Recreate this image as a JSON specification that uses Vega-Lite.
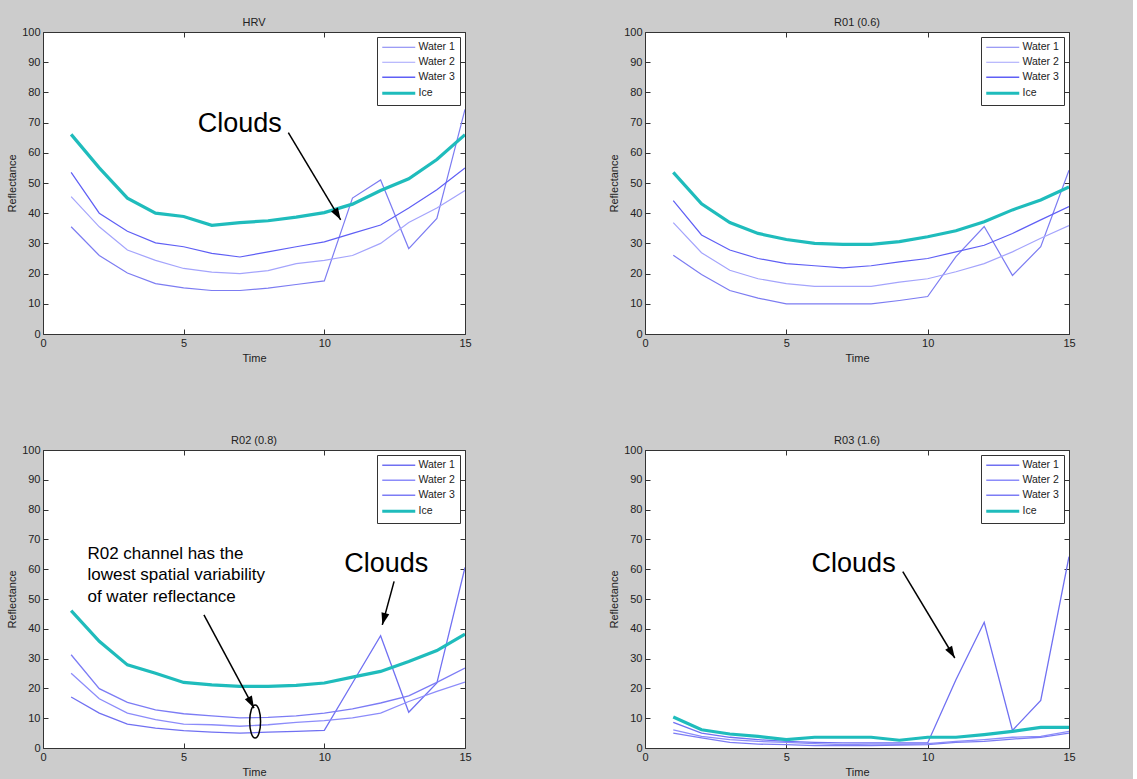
{
  "$schema": "https://vega.github.io/schema/vega-lite/v6.json",
  "background": "#cccccc",
  "padding": {"left": 6, "top": 16, "right": 57, "bottom": 1},
  "config": {
    "font": "Liberation Sans",
    "view": {"fill": "white", "stroke": "#333333", "strokeWidth": 1},
    "title": {"fontSize": 11, "fontWeight": "normal", "color": "#222222", "offset": -2},
    "axis": {"grid": false, "labelFontSize": 11, "labelColor": "#222222", "titleFontSize": 11, "titleFontWeight": "normal", "titleColor": "#222222", "domain": false, "tickColor": "#333333", "tickSize": -5, "labelPadding": 8, "labelFlush": false},
    "legend": {"orient": "top-right", "offset": 5, "strokeColor": "#333333", "fillColor": "white", "padding": 5, "labelFontSize": 10.5, "labelColor": "#222222", "symbolType": "M-1,0L5.6,0", "symbolSize": 100, "labelOffset": 26, "rowPadding": 4, "title": null}
  },
  "datasets": {
    "hrv": [
      {"time":1,"series":"Water 1","reflectance":35.5},{"time":2,"series":"Water 1","reflectance":26},{"time":3,"series":"Water 1","reflectance":20.2},{"time":4,"series":"Water 1","reflectance":16.7},{"time":5,"series":"Water 1","reflectance":15.3},{"time":6,"series":"Water 1","reflectance":14.4},{"time":7,"series":"Water 1","reflectance":14.4},{"time":8,"series":"Water 1","reflectance":15.2},{"time":9,"series":"Water 1","reflectance":16.4},{"time":10,"series":"Water 1","reflectance":17.6},{"time":11,"series":"Water 1","reflectance":45},{"time":12,"series":"Water 1","reflectance":51},{"time":13,"series":"Water 1","reflectance":28.3},{"time":14,"series":"Water 1","reflectance":38.3},{"time":15,"series":"Water 1","reflectance":74.4},
      {"time":1,"series":"Water 2","reflectance":45.5},{"time":2,"series":"Water 2","reflectance":35.5},{"time":3,"series":"Water 2","reflectance":27.8},{"time":4,"series":"Water 2","reflectance":24.4},{"time":5,"series":"Water 2","reflectance":21.7},{"time":6,"series":"Water 2","reflectance":20.5},{"time":7,"series":"Water 2","reflectance":20},{"time":8,"series":"Water 2","reflectance":21},{"time":9,"series":"Water 2","reflectance":23.3},{"time":10,"series":"Water 2","reflectance":24.4},{"time":11,"series":"Water 2","reflectance":26},{"time":12,"series":"Water 2","reflectance":30},{"time":13,"series":"Water 2","reflectance":36.9},{"time":14,"series":"Water 2","reflectance":41.7},{"time":15,"series":"Water 2","reflectance":47.5},
      {"time":1,"series":"Water 3","reflectance":53.5},{"time":2,"series":"Water 3","reflectance":40},{"time":3,"series":"Water 3","reflectance":34},{"time":4,"series":"Water 3","reflectance":30.2},{"time":5,"series":"Water 3","reflectance":28.9},{"time":6,"series":"Water 3","reflectance":26.7},{"time":7,"series":"Water 3","reflectance":25.5},{"time":8,"series":"Water 3","reflectance":27.2},{"time":9,"series":"Water 3","reflectance":28.9},{"time":10,"series":"Water 3","reflectance":30.5},{"time":11,"series":"Water 3","reflectance":33.3},{"time":12,"series":"Water 3","reflectance":36.1},{"time":13,"series":"Water 3","reflectance":41.7},{"time":14,"series":"Water 3","reflectance":47.8},{"time":15,"series":"Water 3","reflectance":55},
      {"time":1,"series":"Ice","reflectance":66.1},{"time":2,"series":"Ice","reflectance":55},{"time":3,"series":"Ice","reflectance":45},{"time":4,"series":"Ice","reflectance":40},{"time":5,"series":"Ice","reflectance":38.9},{"time":6,"series":"Ice","reflectance":36},{"time":7,"series":"Ice","reflectance":36.9},{"time":8,"series":"Ice","reflectance":37.5},{"time":9,"series":"Ice","reflectance":38.7},{"time":10,"series":"Ice","reflectance":40.2},{"time":11,"series":"Ice","reflectance":43},{"time":12,"series":"Ice","reflectance":47.5},{"time":13,"series":"Ice","reflectance":51.4},{"time":14,"series":"Ice","reflectance":57.8},{"time":15,"series":"Ice","reflectance":66}
    ],
    "r01": [
      {"time":1,"series":"Water 1","reflectance":26.1},{"time":2,"series":"Water 1","reflectance":19.7},{"time":3,"series":"Water 1","reflectance":14.4},{"time":4,"series":"Water 1","reflectance":11.9},{"time":5,"series":"Water 1","reflectance":10},{"time":6,"series":"Water 1","reflectance":10},{"time":7,"series":"Water 1","reflectance":10},{"time":8,"series":"Water 1","reflectance":10},{"time":9,"series":"Water 1","reflectance":11.1},{"time":10,"series":"Water 1","reflectance":12.4},{"time":11,"series":"Water 1","reflectance":25.6},{"time":12,"series":"Water 1","reflectance":35.6},{"time":13,"series":"Water 1","reflectance":19.4},{"time":14,"series":"Water 1","reflectance":28.9},{"time":15,"series":"Water 1","reflectance":54.2},
      {"time":1,"series":"Water 2","reflectance":36.9},{"time":2,"series":"Water 2","reflectance":26.9},{"time":3,"series":"Water 2","reflectance":21.1},{"time":4,"series":"Water 2","reflectance":18.3},{"time":5,"series":"Water 2","reflectance":16.7},{"time":6,"series":"Water 2","reflectance":15.8},{"time":7,"series":"Water 2","reflectance":15.8},{"time":8,"series":"Water 2","reflectance":15.8},{"time":9,"series":"Water 2","reflectance":17.2},{"time":10,"series":"Water 2","reflectance":18.3},{"time":11,"series":"Water 2","reflectance":20.6},{"time":12,"series":"Water 2","reflectance":23.3},{"time":13,"series":"Water 2","reflectance":27.2},{"time":14,"series":"Water 2","reflectance":31.7},{"time":15,"series":"Water 2","reflectance":35.9},
      {"time":1,"series":"Water 3","reflectance":44.2},{"time":2,"series":"Water 3","reflectance":32.8},{"time":3,"series":"Water 3","reflectance":27.8},{"time":4,"series":"Water 3","reflectance":25},{"time":5,"series":"Water 3","reflectance":23.3},{"time":6,"series":"Water 3","reflectance":22.6},{"time":7,"series":"Water 3","reflectance":21.9},{"time":8,"series":"Water 3","reflectance":22.6},{"time":9,"series":"Water 3","reflectance":23.9},{"time":10,"series":"Water 3","reflectance":25},{"time":11,"series":"Water 3","reflectance":27.2},{"time":12,"series":"Water 3","reflectance":29.4},{"time":13,"series":"Water 3","reflectance":33.3},{"time":14,"series":"Water 3","reflectance":37.8},{"time":15,"series":"Water 3","reflectance":42.2},
      {"time":1,"series":"Ice","reflectance":53.5},{"time":2,"series":"Ice","reflectance":43.1},{"time":3,"series":"Ice","reflectance":36.9},{"time":4,"series":"Ice","reflectance":33.3},{"time":5,"series":"Ice","reflectance":31.3},{"time":6,"series":"Ice","reflectance":30},{"time":7,"series":"Ice","reflectance":29.7},{"time":8,"series":"Ice","reflectance":29.7},{"time":9,"series":"Ice","reflectance":30.6},{"time":10,"series":"Ice","reflectance":32.2},{"time":11,"series":"Ice","reflectance":34.2},{"time":12,"series":"Ice","reflectance":37.2},{"time":13,"series":"Ice","reflectance":41.1},{"time":14,"series":"Ice","reflectance":44.4},{"time":15,"series":"Ice","reflectance":48.7}
    ],
    "r02": [
      {"time":1,"series":"Water 1","reflectance":17.1},{"time":2,"series":"Water 1","reflectance":11.7},{"time":3,"series":"Water 1","reflectance":8},{"time":4,"series":"Water 1","reflectance":6.7},{"time":5,"series":"Water 1","reflectance":5.8},{"time":6,"series":"Water 1","reflectance":5.3},{"time":7,"series":"Water 1","reflectance":5},{"time":8,"series":"Water 1","reflectance":5.3},{"time":9,"series":"Water 1","reflectance":5.6},{"time":10,"series":"Water 1","reflectance":5.9},{"time":11,"series":"Water 1","reflectance":21.8},{"time":12,"series":"Water 1","reflectance":37.7},{"time":13,"series":"Water 1","reflectance":12},{"time":14,"series":"Water 1","reflectance":21.8},{"time":15,"series":"Water 1","reflectance":60.6},
      {"time":1,"series":"Water 2","reflectance":25.1},{"time":2,"series":"Water 2","reflectance":16.5},{"time":3,"series":"Water 2","reflectance":11.7},{"time":4,"series":"Water 2","reflectance":9.5},{"time":5,"series":"Water 2","reflectance":8},{"time":6,"series":"Water 2","reflectance":7.8},{"time":7,"series":"Water 2","reflectance":7.3},{"time":8,"series":"Water 2","reflectance":7.8},{"time":9,"series":"Water 2","reflectance":8.6},{"time":10,"series":"Water 2","reflectance":9.2},{"time":11,"series":"Water 2","reflectance":10.1},{"time":12,"series":"Water 2","reflectance":11.7},{"time":13,"series":"Water 2","reflectance":15.6},{"time":14,"series":"Water 2","reflectance":19},{"time":15,"series":"Water 2","reflectance":22.1},
      {"time":1,"series":"Water 3","reflectance":31.3},{"time":2,"series":"Water 3","reflectance":19.9},{"time":3,"series":"Water 3","reflectance":15.3},{"time":4,"series":"Water 3","reflectance":12.8},{"time":5,"series":"Water 3","reflectance":11.5},{"time":6,"series":"Water 3","reflectance":10.8},{"time":7,"series":"Water 3","reflectance":10.1},{"time":8,"series":"Water 3","reflectance":10.3},{"time":9,"series":"Water 3","reflectance":10.8},{"time":10,"series":"Water 3","reflectance":11.7},{"time":11,"series":"Water 3","reflectance":13.1},{"time":12,"series":"Water 3","reflectance":15.1},{"time":13,"series":"Water 3","reflectance":17.5},{"time":14,"series":"Water 3","reflectance":22},{"time":15,"series":"Water 3","reflectance":26.8},
      {"time":1,"series":"Ice","reflectance":46.1},{"time":2,"series":"Ice","reflectance":35.8},{"time":3,"series":"Ice","reflectance":27.9},{"time":4,"series":"Ice","reflectance":25.1},{"time":5,"series":"Ice","reflectance":22},{"time":6,"series":"Ice","reflectance":21.2},{"time":7,"series":"Ice","reflectance":20.7},{"time":8,"series":"Ice","reflectance":20.7},{"time":9,"series":"Ice","reflectance":21},{"time":10,"series":"Ice","reflectance":21.8},{"time":11,"series":"Ice","reflectance":23.8},{"time":12,"series":"Ice","reflectance":25.7},{"time":13,"series":"Ice","reflectance":29},{"time":14,"series":"Ice","reflectance":32.7},{"time":15,"series":"Ice","reflectance":38.2}
    ],
    "r03": [
      {"time":1,"series":"Water 1","reflectance":8.6},{"time":2,"series":"Water 1","reflectance":5},{"time":3,"series":"Water 1","reflectance":3.6},{"time":4,"series":"Water 1","reflectance":2.8},{"time":5,"series":"Water 1","reflectance":2.2},{"time":6,"series":"Water 1","reflectance":1.9},{"time":7,"series":"Water 1","reflectance":1.7},{"time":8,"series":"Water 1","reflectance":1.7},{"time":9,"series":"Water 1","reflectance":1.7},{"time":10,"series":"Water 1","reflectance":1.7},{"time":11,"series":"Water 1","reflectance":22.9},{"time":12,"series":"Water 1","reflectance":42.2},{"time":13,"series":"Water 1","reflectance":5.9},{"time":14,"series":"Water 1","reflectance":16},{"time":15,"series":"Water 1","reflectance":64.2},
      {"time":1,"series":"Water 2","reflectance":6.1},{"time":2,"series":"Water 2","reflectance":3.9},{"time":3,"series":"Water 2","reflectance":2.8},{"time":4,"series":"Water 2","reflectance":2.2},{"time":5,"series":"Water 2","reflectance":1.9},{"time":6,"series":"Water 2","reflectance":1.5},{"time":7,"series":"Water 2","reflectance":1.1},{"time":8,"series":"Water 2","reflectance":1.3},{"time":9,"series":"Water 2","reflectance":1.3},{"time":10,"series":"Water 2","reflectance":1.5},{"time":11,"series":"Water 2","reflectance":2.2},{"time":12,"series":"Water 2","reflectance":2.8},{"time":13,"series":"Water 2","reflectance":3.6},{"time":14,"series":"Water 2","reflectance":3.9},{"time":15,"series":"Water 2","reflectance":5.6},
      {"time":1,"series":"Water 3","reflectance":5},{"time":2,"series":"Water 3","reflectance":3.4},{"time":3,"series":"Water 3","reflectance":1.9},{"time":4,"series":"Water 3","reflectance":1.3},{"time":5,"series":"Water 3","reflectance":1.1},{"time":6,"series":"Water 3","reflectance":0.8},{"time":7,"series":"Water 3","reflectance":0.8},{"time":8,"series":"Water 3","reflectance":0.8},{"time":9,"series":"Water 3","reflectance":1},{"time":10,"series":"Water 3","reflectance":1.1},{"time":11,"series":"Water 3","reflectance":1.9},{"time":12,"series":"Water 3","reflectance":2.2},{"time":13,"series":"Water 3","reflectance":3},{"time":14,"series":"Water 3","reflectance":3.6},{"time":15,"series":"Water 3","reflectance":5},
      {"time":1,"series":"Ice","reflectance":10.4},{"time":2,"series":"Ice","reflectance":6.1},{"time":3,"series":"Ice","reflectance":4.7},{"time":4,"series":"Ice","reflectance":3.9},{"time":5,"series":"Ice","reflectance":2.8},{"time":6,"series":"Ice","reflectance":3.6},{"time":7,"series":"Ice","reflectance":3.6},{"time":8,"series":"Ice","reflectance":3.6},{"time":9,"series":"Ice","reflectance":2.6},{"time":10,"series":"Ice","reflectance":3.6},{"time":11,"series":"Ice","reflectance":3.6},{"time":12,"series":"Ice","reflectance":4.5},{"time":13,"series":"Ice","reflectance":5.6},{"time":14,"series":"Ice","reflectance":6.9},{"time":15,"series":"Ice","reflectance":6.9}
    ],
    "hrvLabel": [{"x": 6.99, "y": 69.4, "label": "Clouds"}],
    "hrvArrow": [{"x": 8.72, "y": 66.7, "x2": 10.58, "y2": 37.8}],
    "r02Label": [{"x": 12.2, "y": 61.8, "label": "Clouds"}],
    "r02Arrow": [{"x": 12.48, "y": 55.9, "x2": 12.06, "y2": 41.3}],
    "r02Note": [{"x": 1.58, "y": 65.1, "label": "R02 channel has the"}, {"x": 1.58, "y": 57.9, "label": "lowest spatial variability"}, {"x": 1.58, "y": 50.8, "label": "of water reflectance"}],
    "r02NoteArrow": [{"x": 5.72, "y": 44.7, "x2": 7.5, "y2": 13.4}],
    "r02Ellipse": [{"x": 7.54, "y": 8.9}],
    "r03Label": [{"x": 7.38, "y": 61.8, "label": "Clouds"}],
    "r03Arrow": [{"x": 9.12, "y": 59.2, "x2": 10.96, "y2": 30.2}]
  },
  "concat": [
    {
      "title": "HRV",
      "width": 422, "height": 302,
      "layer": [
        {
          "data": {"name": "hrv"},
          "mark": {"type": "line", "clip": true},
          "encoding": {
            "x": {"field": "time", "type": "quantitative", "scale": {"domain": [0, 15], "nice": false}, "axis": {"orient": "bottom", "values": [0, 5, 10, 15], "title": "Time"}},
            "y": {"field": "reflectance", "type": "quantitative", "scale": {"domain": [0, 100], "nice": false}, "axis": {"orient": "left", "values": [0,10,20,30,40,50,60,70,80,90,100], "title": "Reflectance"}},
            "color": {"field": "series", "type": "nominal", "scale": {"domain": ["Water 1", "Water 2", "Water 3", "Ice"], "range": ["#7c7cf2", "#a4a4fc", "#5f5ff5", "#1fbcbc"]}, "legend": {"encode": {"symbols": {"update": {"strokeWidth": {"signal": "datum.value === 'Ice' ? 3 : (datum.value === 'Water 3' ? 1.6 : 1)"}}}}}},
            "strokeWidth": {"condition": {"test": "datum.series === 'Ice'", "value": 3.2}, "value": 1.2}
          }
        },
        {
          "data": {"name": "hrv"},
          "mark": {"type": "point", "opacity": 0},
          "encoding": {
            "x": {"field": "time", "type": "quantitative", "axis": {"orient": "top", "values": [0, 5, 10, 15], "labels": false, "title": null}},
            "y": {"field": "reflectance", "type": "quantitative", "axis": {"orient": "right", "values": [0,10,20,30,40,50,60,70,80,90,100], "labels": false, "title": null}}
          }
        },
        {
          "data": {"name": "hrvLabel"},
          "mark": {"type": "text", "fontSize": 27, "color": "black", "align": "center", "baseline": "middle"},
          "encoding": {"x": {"field": "x", "type": "quantitative", "axis": null}, "y": {"field": "y", "type": "quantitative", "axis": null}, "text": {"field": "label"}}
        },
        {
          "data": {"name": "hrvArrow"},
          "mark": {"type": "rule", "color": "black", "strokeWidth": 1.5},
          "encoding": {"x": {"field": "x", "type": "quantitative", "axis": null}, "y": {"field": "y", "type": "quantitative", "axis": null}, "x2": {"field": "x2"}, "y2": {"field": "y2"}}
        },
        {
          "data": {"name": "hrvArrow"},
          "mark": {"type": "point", "shape": "M0,0L-0.4,1.2L0.4,1.2Z", "size": 400, "filled": true, "color": "black", "opacity": 1, "angle": 149},
          "encoding": {"x": {"field": "x2", "type": "quantitative", "axis": null}, "y": {"field": "y2", "type": "quantitative", "axis": null}}
        }
      ],
      "resolve": {"axis": {"x": "independent", "y": "independent"}}
    },
    {
      "title": "R01 (0.6)",
      "width": 424, "height": 302,
      "layer": [
        {
          "data": {"name": "r01"},
          "mark": {"type": "line", "clip": true},
          "encoding": {
            "x": {"field": "time", "type": "quantitative", "scale": {"domain": [0, 15], "nice": false}, "axis": {"orient": "bottom", "values": [0, 5, 10, 15], "title": "Time"}},
            "y": {"field": "reflectance", "type": "quantitative", "scale": {"domain": [0, 100], "nice": false}, "axis": {"orient": "left", "values": [0,10,20,30,40,50,60,70,80,90,100], "title": "Reflectance"}},
            "color": {"field": "series", "type": "nominal", "scale": {"domain": ["Water 1", "Water 2", "Water 3", "Ice"], "range": ["#7c7cf2", "#a4a4fc", "#5f5ff5", "#1fbcbc"]}, "legend": {"encode": {"symbols": {"update": {"strokeWidth": {"signal": "datum.value === 'Ice' ? 3 : (datum.value === 'Water 3' ? 1.6 : 1)"}}}}}},
            "strokeWidth": {"condition": {"test": "datum.series === 'Ice'", "value": 3.2}, "value": 1.2}
          }
        },
        {
          "data": {"name": "r01"},
          "mark": {"type": "point", "opacity": 0},
          "encoding": {
            "x": {"field": "time", "type": "quantitative", "axis": {"orient": "top", "values": [0, 5, 10, 15], "labels": false, "title": null}},
            "y": {"field": "reflectance", "type": "quantitative", "axis": {"orient": "right", "values": [0,10,20,30,40,50,60,70,80,90,100], "labels": false, "title": null}}
          }
        }
      ],
      "resolve": {"axis": {"x": "independent", "y": "independent"}}
    },
    {
      "title": "R02 (0.8)",
      "width": 422, "height": 298,
      "layer": [
        {
          "data": {"name": "r02"},
          "mark": {"type": "line", "clip": true},
          "encoding": {
            "x": {"field": "time", "type": "quantitative", "scale": {"domain": [0, 15], "nice": false}, "axis": {"orient": "bottom", "values": [0, 5, 10, 15], "title": "Time"}},
            "y": {"field": "reflectance", "type": "quantitative", "scale": {"domain": [0, 100], "nice": false}, "axis": {"orient": "left", "values": [0,10,20,30,40,50,60,70,80,90,100], "title": "Reflectance"}},
            "color": {"field": "series", "type": "nominal", "scale": {"domain": ["Water 1", "Water 2", "Water 3", "Ice"], "range": ["#7070f2", "#8c8cfa", "#7c7cf5", "#1fbcbc"]}, "legend": {"encode": {"symbols": {"update": {"strokeWidth": {"signal": "datum.value === 'Ice' ? 3 : 1.5"}}}}}},
            "strokeWidth": {"condition": {"test": "datum.series === 'Ice'", "value": 3.2}, "value": 1.3}
          }
        },
        {
          "data": {"name": "r02"},
          "mark": {"type": "point", "opacity": 0},
          "encoding": {
            "x": {"field": "time", "type": "quantitative", "axis": {"orient": "top", "values": [0, 5, 10, 15], "labels": false, "title": null}},
            "y": {"field": "reflectance", "type": "quantitative", "axis": {"orient": "right", "values": [0,10,20,30,40,50,60,70,80,90,100], "labels": false, "title": null}}
          }
        },
        {
          "data": {"name": "r02Label"},
          "mark": {"type": "text", "fontSize": 27, "color": "black", "align": "center", "baseline": "middle"},
          "encoding": {"x": {"field": "x", "type": "quantitative", "axis": null}, "y": {"field": "y", "type": "quantitative", "axis": null}, "text": {"field": "label"}}
        },
        {
          "data": {"name": "r02Note"},
          "mark": {"type": "text", "fontSize": 17, "color": "black", "align": "left", "baseline": "middle"},
          "encoding": {"x": {"field": "x", "type": "quantitative", "axis": null}, "y": {"field": "y", "type": "quantitative", "axis": null}, "text": {"field": "label"}}
        },
        {
          "data": {"name": "r02Arrow"},
          "mark": {"type": "rule", "color": "black", "strokeWidth": 1.5},
          "encoding": {"x": {"field": "x", "type": "quantitative", "axis": null}, "y": {"field": "y", "type": "quantitative", "axis": null}, "x2": {"field": "x2"}, "y2": {"field": "y2"}}
        },
        {
          "data": {"name": "r02Arrow"},
          "mark": {"type": "point", "shape": "M0,0L-0.4,1.2L0.4,1.2Z", "size": 400, "filled": true, "color": "black", "opacity": 1, "angle": 195},
          "encoding": {"x": {"field": "x2", "type": "quantitative", "axis": null}, "y": {"field": "y2", "type": "quantitative", "axis": null}}
        },
        {
          "data": {"name": "r02NoteArrow"},
          "mark": {"type": "rule", "color": "black", "strokeWidth": 1.5},
          "encoding": {"x": {"field": "x", "type": "quantitative", "axis": null}, "y": {"field": "y", "type": "quantitative", "axis": null}, "x2": {"field": "x2"}, "y2": {"field": "y2"}}
        },
        {
          "data": {"name": "r02NoteArrow"},
          "mark": {"type": "point", "shape": "M0,0L-0.4,1.2L0.4,1.2Z", "size": 400, "filled": true, "color": "black", "opacity": 1, "angle": 152},
          "encoding": {"x": {"field": "x2", "type": "quantitative", "axis": null}, "y": {"field": "y2", "type": "quantitative", "axis": null}}
        },
        {
          "data": {"name": "r02Ellipse"},
          "mark": {"type": "point", "shape": "M0,-1A0.33,1,0,1,1,0,1A0.33,1,0,1,1,0,-1Z", "size": 1089, "filled": false, "color": "black", "opacity": 1, "strokeWidth": 1.5},
          "encoding": {"x": {"field": "x", "type": "quantitative", "axis": null}, "y": {"field": "y", "type": "quantitative", "axis": null}}
        }
      ],
      "resolve": {"axis": {"x": "independent", "y": "independent"}}
    },
    {
      "title": "R03 (1.6)",
      "width": 424, "height": 298,
      "layer": [
        {
          "data": {"name": "r03"},
          "mark": {"type": "line", "clip": true},
          "encoding": {
            "x": {"field": "time", "type": "quantitative", "scale": {"domain": [0, 15], "nice": false}, "axis": {"orient": "bottom", "values": [0, 5, 10, 15], "title": "Time"}},
            "y": {"field": "reflectance", "type": "quantitative", "scale": {"domain": [0, 100], "nice": false}, "axis": {"orient": "left", "values": [0,10,20,30,40,50,60,70,80,90,100], "title": "Reflectance"}},
            "color": {"field": "series", "type": "nominal", "scale": {"domain": ["Water 1", "Water 2", "Water 3", "Ice"], "range": ["#7070f2", "#8c8cfa", "#7c7cf5", "#1fbcbc"]}, "legend": {"encode": {"symbols": {"update": {"strokeWidth": {"signal": "datum.value === 'Ice' ? 3 : 1.5"}}}}}},
            "strokeWidth": {"condition": {"test": "datum.series === 'Ice'", "value": 3.2}, "value": 1.3}
          }
        },
        {
          "data": {"name": "r03"},
          "mark": {"type": "point", "opacity": 0},
          "encoding": {
            "x": {"field": "time", "type": "quantitative", "axis": {"orient": "top", "values": [0, 5, 10, 15], "labels": false, "title": null}},
            "y": {"field": "reflectance", "type": "quantitative", "axis": {"orient": "right", "values": [0,10,20,30,40,50,60,70,80,90,100], "labels": false, "title": null}}
          }
        },
        {
          "data": {"name": "r03Label"},
          "mark": {"type": "text", "fontSize": 27, "color": "black", "align": "center", "baseline": "middle"},
          "encoding": {"x": {"field": "x", "type": "quantitative", "axis": null}, "y": {"field": "y", "type": "quantitative", "axis": null}, "text": {"field": "label"}}
        },
        {
          "data": {"name": "r03Arrow"},
          "mark": {"type": "rule", "color": "black", "strokeWidth": 1.5},
          "encoding": {"x": {"field": "x", "type": "quantitative", "axis": null}, "y": {"field": "y", "type": "quantitative", "axis": null}, "x2": {"field": "x2"}, "y2": {"field": "y2"}}
        },
        {
          "data": {"name": "r03Arrow"},
          "mark": {"type": "point", "shape": "M0,0L-0.4,1.2L0.4,1.2Z", "size": 400, "filled": true, "color": "black", "opacity": 1, "angle": 149},
          "encoding": {"x": {"field": "x2", "type": "quantitative", "axis": null}, "y": {"field": "y2", "type": "quantitative", "axis": null}}
        }
      ],
      "resolve": {"axis": {"x": "independent", "y": "independent"}}
    }
  ],
  "columns": 2,
  "spacing": {"row": 116, "column": 180},
  "bounds": "flush",
  "resolve": {"scale": {"color": "independent"}, "legend": {"color": "independent"}}
}
